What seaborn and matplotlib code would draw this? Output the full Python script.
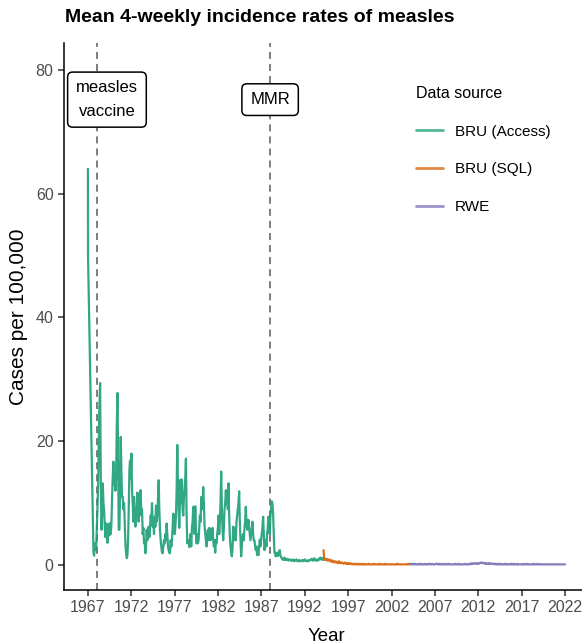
import numpy as np
import pandas as pd
import matplotlib
matplotlib.use("Agg")
import matplotlib.pyplot as plt
import seaborn as sns
from matplotlib.lines import Line2D

# ---- data ---------------------------------------------------------------
sources = ["BRU (Access)", "BRU (SQL)", "RWE"]
source_colors = ["#1B9E77", "#D95F02", "#7570B3"]

# first reports of 1967 (weekly-spaced)
access_head_dates = ["1967-01-02", "1967-01-09"]
access_head_rate = [64.0, 49.8]

# 4-weekly mean incidence, BRU Access database
access_start = "1967-08-25"
access_rate = [
    2.0, 1.5, 3.5, 2.5, 2.4, 6.0, 9.0, 12.7, 20.0, 26.0, 29.4, 14.0, 5.7,
    8.0, 13.2, 10.0, 8.9, 6.2, 4.5, 6.7, 5.1, 3.6, 5.0, 6.7, 4.8, 6.7,
    5.0, 6.7, 11.0, 14.3, 16.7, 13.0, 15.0, 12.0, 14.0, 22.0, 27.8, 18.0, 5.7,
    5.7, 12.0, 20.7, 15.0, 11.0, 11.0, 9.0, 10.0, 7.0, 3.5, 2.0, 1.1, 1.5,
    4.0, 9.0, 15.3, 16.9, 14.0, 18.0, 12.0, 9.9, 7.0, 11.0, 9.0, 6.2, 8.0,
    8.0, 11.7, 9.0, 7.0, 10.0, 11.0, 12.1, 8.0, 9.0, 5.0, 6.0, 3.5, 4.0,
    1.9, 3.0, 5.7, 4.0, 5.0, 6.2, 4.5, 6.0, 8.0, 7.0, 10.0, 6.2, 7.0,
    5.0, 7.8, 6.2, 9.6, 7.0, 8.0, 11.0, 13.7, 9.0, 5.7, 4.0, 3.0, 2.0,
    1.9, 3.0, 4.0, 3.5, 5.0, 4.0, 6.7, 5.0, 3.0, 2.4, 2.0, 1.9, 4.0,
    3.0, 4.0, 6.0, 8.3, 7.8, 5.0, 6.0, 7.8, 12.0, 19.4, 13.0, 9.0, 6.0,
    10.0, 13.8, 10.0, 13.8, 9.0, 8.0, 11.0, 12.0, 14.0, 17.2, 8.0, 3.5, 4.0,
    4.0, 2.9, 3.5, 5.0, 3.0, 6.0, 7.0, 9.4, 6.0, 5.0, 9.5, 6.0, 3.5,
    5.0, 3.5, 4.0, 6.0, 8.0, 7.0, 11.0, 9.0, 10.0, 12.6, 10.0, 6.2, 5.0,
    4.0, 3.0, 4.5, 5.7, 4.0, 6.0, 5.7, 4.0, 5.7, 5.0, 6.0, 4.0, 3.0,
    4.0, 2.0, 4.0, 3.5, 5.0, 6.0, 8.0, 5.0, 7.0, 10.0, 15.1, 9.0, 5.7,
    4.0, 6.0, 9.0, 10.0, 12.1, 10.0, 11.0, 9.0, 13.2, 8.0, 4.6, 3.0, 2.0,
    1.4, 2.5, 6.2, 4.0, 5.0, 6.0, 4.0, 7.0, 8.0, 9.0, 10.0, 11.9, 7.0,
    4.0, 1.4, 3.0, 4.6, 5.0, 4.0, 6.0, 7.0, 9.4, 7.0, 5.7, 6.0, 7.3,
    6.0, 5.0, 4.0, 5.0, 6.0, 7.0, 5.0, 4.0, 4.0, 3.0, 2.4, 3.0, 1.6,
    2.0, 1.6, 3.0, 4.1, 3.0, 4.0, 5.0, 6.0, 7.8, 5.0, 2.4, 3.0, 4.0,
    3.0, 5.0, 6.0, 7.8, 6.0, 5.0, 8.0, 9.0, 10.3, 10.0, 8.4, 5.0, 2.0,
    2.0, 1.4, 1.9, 1.5, 2.0, 1.5, 1.8, 2.4, 1.6, 1.3, 1.1, 0.9, 1.0,
    0.8, 1.2, 0.9, 1.0, 0.8, 0.9, 1.0, 0.7, 0.8, 0.9, 0.8, 0.7, 0.8,
    0.7, 0.9, 0.8, 0.6, 0.7, 0.8, 0.9, 0.7, 0.6, 0.7, 0.8, 0.6, 0.7,
    0.6, 0.7, 0.8, 0.7, 0.6, 0.8, 0.9, 0.7, 0.6, 0.7, 0.6, 0.7, 0.8,
    0.7, 0.8, 0.9, 1.0, 0.8, 0.7, 0.9, 1.1, 0.8, 0.7, 0.8, 0.9, 0.7,
    0.8, 1.0, 0.9, 1.2, 0.9, 1.0, 1.1, 0.8,
]

# 4-weekly mean incidence, BRU SQL database
sql_start = "1994-03-02"
sql_rate = [
    2.4, 0.9, 1.0, 0.8, 0.9, 1.0, 0.7, 0.8, 0.9, 0.7, 0.6, 0.8, 0.6,
    0.5, 0.7, 0.6, 0.4, 0.5, 0.6, 0.4, 0.5, 0.4, 0.3, 0.6, 0.4, 0.3,
    0.4, 0.3, 0.4, 0.3, 0.2, 0.3, 0.4, 0.3, 0.2, 0.3, 0.2, 0.3, 0.2,
    0.2, 0.3, 0.2, 0.2, 0.1, 0.2, 0.2, 0.1, 0.2, 0.1, 0.2, 0.1, 0.1,
    0.1, 0.2, 0.1, 0.1, 0.1, 0.2, 0.1, 0.1, 0.1, 0.1, 0.2, 0.1, 0.1,
    0.1, 0.1, 0.1, 0.2, 0.1, 0.1, 0.1, 0.1, 0.1, 0.1, 0.1, 0.2, 0.1,
    0.1, 0.1, 0.1, 0.1, 0.1, 0.1, 0.2, 0.1, 0.1, 0.1, 0.1, 0.1, 0.1,
    0.1, 0.1, 0.2, 0.1, 0.1, 0.1, 0.1, 0.1, 0.1, 0.1, 0.1, 0.1, 0.1,
    0.1, 0.1, 0.1, 0.1, 0.1, 0.1, 0.1, 0.2, 0.1, 0.1, 0.1, 0.1, 0.1,
    0.1, 0.1, 0.1, 0.1, 0.1, 0.1, 0.1, 0.1, 0.1, 0.1, 0.2, 0.1, 0.1,
]

# 4-weekly mean incidence, RWE network
rwe_start = "2004-02-18"
rwe_rate = [
    0.2, 0.1, 0.2, 0.1, 0.1, 0.2, 0.1, 0.1, 0.2, 0.1, 0.1, 0.1, 0.1,
    0.1, 0.2, 0.1, 0.1, 0.1, 0.2, 0.1, 0.1, 0.1, 0.1, 0.2, 0.1, 0.1,
    0.1, 0.1, 0.2, 0.2, 0.1, 0.1, 0.1, 0.2, 0.1, 0.1, 0.1, 0.1, 0.1,
    0.2, 0.2, 0.2, 0.1, 0.1, 0.2, 0.1, 0.1, 0.1, 0.2, 0.1, 0.1, 0.1,
    0.1, 0.2, 0.1, 0.1, 0.1, 0.1, 0.2, 0.1, 0.1, 0.1, 0.1, 0.1, 0.1,
    0.1, 0.1, 0.1, 0.2, 0.1, 0.1, 0.1, 0.1, 0.2, 0.1, 0.1, 0.1, 0.1,
    0.1, 0.1, 0.1, 0.1, 0.1, 0.2, 0.1, 0.1, 0.1, 0.1, 0.1, 0.2, 0.1,
    0.2, 0.2, 0.3, 0.2, 0.2, 0.2, 0.3, 0.3, 0.2, 0.2, 0.3, 0.2, 0.2,
    0.3, 0.3, 0.4, 0.3, 0.3, 0.4, 0.3, 0.3, 0.3, 0.2, 0.3, 0.2, 0.2,
    0.2, 0.3, 0.2, 0.2, 0.3, 0.2, 0.2, 0.2, 0.2, 0.1, 0.2, 0.2, 0.1,
    0.1, 0.2, 0.1, 0.1, 0.2, 0.1, 0.1, 0.2, 0.1, 0.1, 0.1, 0.1, 0.2,
    0.1, 0.1, 0.1, 0.2, 0.1, 0.1, 0.1, 0.1, 0.1, 0.2, 0.1, 0.1, 0.1,
    0.2, 0.1, 0.1, 0.1, 0.1, 0.2, 0.1, 0.1, 0.1, 0.1, 0.1, 0.1, 0.1,
    0.1, 0.1, 0.2, 0.1, 0.1, 0.1, 0.1, 0.2, 0.1, 0.1, 0.1, 0.1, 0.1,
    0.1, 0.1, 0.1, 0.1, 0.2, 0.1, 0.1, 0.1, 0.1, 0.1, 0.2, 0.1, 0.1,
    0.1, 0.1, 0.1, 0.1, 0.1, 0.1, 0.1, 0.1, 0.1, 0.1, 0.1, 0.1, 0.1,
    0.1, 0.1, 0.1, 0.1, 0.1, 0.1, 0.1, 0.1, 0.1, 0.1, 0.1, 0.1, 0.1,
    0.1, 0.1, 0.1, 0.1, 0.1, 0.1, 0.1, 0.1, 0.1, 0.1, 0.1, 0.1, 0.1,
]

# vaccine introductions
event_labels = ["measles\nvaccine", "MMR"]
event_years = [1968.0, 1988.0]

year_ticks = list(range(1967, 2023, 5))
rate_ticks = [0, 20, 40, 60, 80]


# ---- helpers ------------------------------------------------------------
def decimal_year(dates):
    dates = pd.DatetimeIndex(dates)
    days = np.where(dates.is_leap_year, 366.0, 365.0)
    return dates.year + (dates.dayofyear - 1) / days


def four_weekly(start, values, source):
    dates = pd.date_range(start, periods=len(values), freq="28D")
    return pd.DataFrame({"year": decimal_year(dates), "rate": values, "source": source})


frames = [
    pd.DataFrame({"year": decimal_year(access_head_dates),
                  "rate": access_head_rate, "source": sources[0]}),
    four_weekly(access_start, access_rate, sources[0]),
    four_weekly(sql_start, sql_rate, sources[1]),
    four_weekly(rwe_start, rwe_rate, sources[2]),
]
df = pd.concat(frames, ignore_index=True)

# ---- style --------------------------------------------------------------
sns.set_style("ticks")
plt.rcParams["font.family"] = ["Liberation Sans", "DejaVu Sans"]
plt.rcParams["text.color"] = "black"

W, H = 582, 644
fig = plt.figure(figsize=(W / 100, H / 100), dpi=100)
ax = fig.add_axes([64 / W, 54 / H, (589 - 64) / W, (590 - 43) / H])

palette = dict(zip(sources, source_colors))
sns.lineplot(data=df, x="year", y="rate", hue="source", hue_order=sources,
             palette=palette, estimator=None, linewidth=1.6, alpha=0.9,
             legend=False, ax=ax)

# vertical reference lines with boxed labels
label_offsets = [1.2, 0.0]
for lab, yr, off in zip(event_labels, event_years, label_offsets):
    ax.axvline(yr, color="#5a5a5a", lw=1.1, dashes=(4.6, 3.3), zorder=1)
    ax.text(yr + off, 75.2, lab, ha="center", va="center", fontsize=12,
            linespacing=1.7, zorder=5,
            bbox=dict(boxstyle="round,pad=0.5,rounding_size=0.3",
                      fc="white", ec="black", lw=1.1))

ax.set_xlim(1964.25, 2024.75)
ax.set_ylim(-4.04, 84.35)
ax.set_xticks(year_ticks)
ax.set_yticks(rate_ticks)
ax.tick_params(axis="both", labelsize=11.5, labelcolor="#4d4d4d", color="#333333",
               length=4, width=1.1, pad=3.5)
sns.despine(ax=ax)
for side in ("left", "bottom"):
    ax.spines[side].set_linewidth(1.1)
    ax.spines[side].set_color("black")

ax.set_xlabel("Year", fontsize=13.4, color="black")
ax.set_ylabel("Cases per 100,000", fontsize=15, color="black")
ax.xaxis.set_label_coords(326 / W, 1 - 641 / H, transform=fig.transFigure)
ax.xaxis.label.set_va("baseline")
ax.yaxis.set_label_coords(19 / W, 1 - 317 / H, transform=fig.transFigure)
ax.yaxis.label.set_va("center")

fig.text(65 / W, 1 - 18 / H, "Mean 4-weekly incidence rates of measles",
         fontsize=14, fontweight="bold", color="black",
         ha="left", va="center")

handles = [Line2D([], [], color=c, lw=2.0, alpha=0.75) for c in source_colors]
leg = ax.legend(handles, sources, title="Data source", loc="upper left",
                bbox_to_anchor=(410 / W, 1 - 80 / H),
                bbox_transform=fig.transFigure, frameon=False, fontsize=11,
                title_fontsize=11.5, handlelength=1.75, handletextpad=0.8,
                labelspacing=1.55, borderaxespad=0, alignment="left")
leg.get_title().set_color("black")

fig.savefig("out.png", dpi=100)
